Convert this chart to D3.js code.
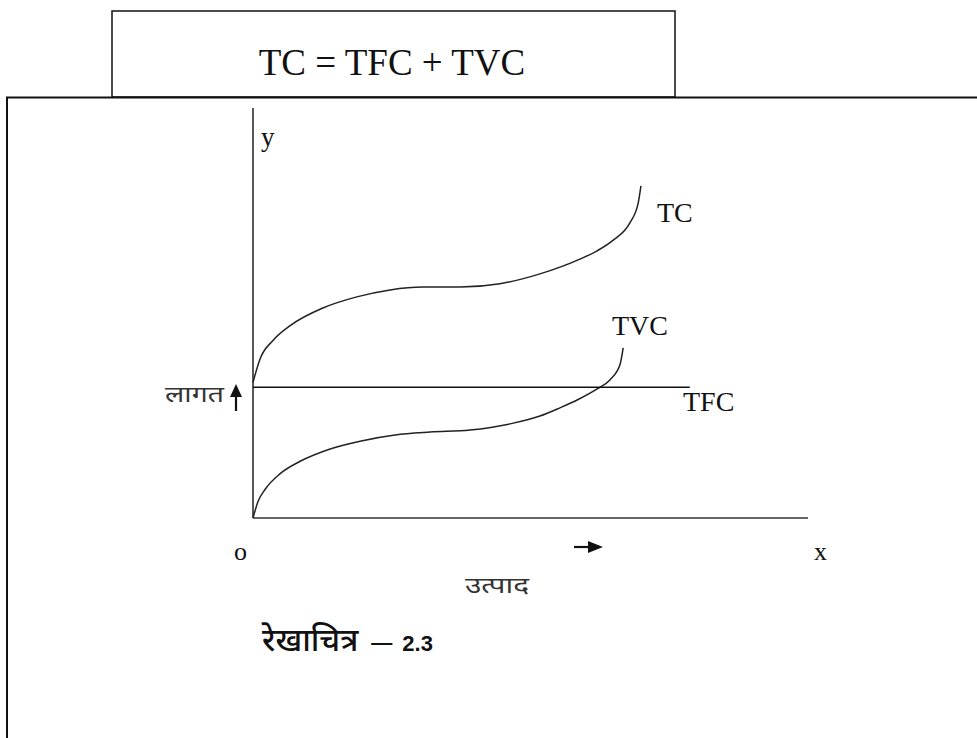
<!DOCTYPE html>
<html>
<head>
<meta charset="utf-8">
<script src="https://cdn.jsdelivr.net/npm/d3@7"></script>
<style>
  html, body { margin: 0; padding: 0; background: #fff; }
  svg { display: block; }
</style>
</head>
<body>
<svg id="chart" width="977" height="738"></svg>
<script>
// Output (x) and cost (y) points for each cost curve, in chart units
const tcOutput  = [0, 0.13, 0.36, 0.67, 1.26, 1.87, 2.47, 3.06, 3.73, 4.45, 5.17, 5.89, 6.20, 6.49, 6.79, 6.94, 6.99];
const tcCost    = [3.30, 3.88, 4.32, 4.68, 5.11, 5.38, 5.55, 5.62, 5.62, 5.70, 5.94, 6.30, 6.50, 6.76, 7.18, 7.66, 8.08];
const tvcOutput = [0, 0.09, 0.22, 0.49, 0.85, 1.39, 1.93, 2.56, 3.19, 3.91, 4.63, 5.17, 5.53, 5.84, 6.20, 6.43, 6.61, 6.67];
const tvcCost   = [0, 0.40, 0.70, 1.08, 1.38, 1.68, 1.87, 2.02, 2.09, 2.14, 2.29, 2.48, 2.68, 2.87, 3.14, 3.36, 3.72, 4.14];
const tfcOutput = [0, 7.87];
const tfcCost   = [3.18, 3.18];

const curveNames = ["TC", "TVC", "TFC"];
const formula = "TC = TFC + TVC";
const yAxisName = "लागत";
const xAxisName = "उत्पाद";
const figureTitle = "रेखाचित्र";
const figureNumber = "2.3";

const svg = d3.select("#chart");
const serif = "'Liberation Serif', 'Times New Roman', serif";
const deva = "'Noto Sans Devanagari', 'Lohit Devanagari', 'Mangal', 'Noto Sans', sans-serif";

const x = d3.scaleLinear().domain([0, 10]).range([253, 808]);
const y = d3.scaleLinear().domain([0, 10]).range([518, 107]);

// Frames
svg.append("rect").attr("x", 112).attr("y", 11).attr("width", 563).attr("height", 86)
  .attr("fill", "none").attr("stroke", "#111").attr("stroke-width", 1.5);
svg.append("path").attr("d", "M7,745 V97.5 H985")
  .attr("fill", "none").attr("stroke", "#111").attr("stroke-width", 2);

svg.append("text").attr("x", 392).attr("y", 75).attr("text-anchor", "middle")
  .attr("font-family", serif).attr("font-size", 37).attr("fill", "#111").text(formula);

// Axes
svg.append("line").attr("x1", x(0)).attr("x2", x(0)).attr("y1", 108).attr("y2", y(0))
  .attr("stroke", "#111").attr("stroke-width", 1.4);
svg.append("line").attr("x1", x(0)).attr("x2", x(10)).attr("y1", y(0)).attr("y2", y(0))
  .attr("stroke", "#666").attr("stroke-width", 2);

// Curves
const smooth = d3.line().x(d => x(d[0])).y(d => y(d[1])).curve(d3.curveMonotoneX);
const straight = d3.line().x(d => x(d[0])).y(d => y(d[1]));
const series = [
  d3.zip(tcOutput, tcCost),
  d3.zip(tvcOutput, tvcCost),
  d3.zip(tfcOutput, tfcCost)
];
svg.selectAll("path.curve").data(series).join("path")
  .attr("class", "curve")
  .attr("d", (d, i) => i === 2 ? straight(d) : smooth(d))
  .attr("fill", "none").attr("stroke", (d, i) => i === 2 ? "#111" : "#222")
  .attr("stroke-width", (d, i) => i === 2 ? 1.4 : 1.5);

// Curve labels
const labelPos = [[657, 222], [612, 335], [683, 411]];
svg.selectAll("text.curve-label").data(curveNames).join("text")
  .attr("class", "curve-label")
  .attr("x", (d, i) => labelPos[i][0]).attr("y", (d, i) => labelPos[i][1])
  .attr("font-family", serif).attr("font-size", 28).attr("fill", "#111").text(d => d);

// Axis letters
svg.append("text").attr("x", 261).attr("y", 146).attr("font-family", serif).attr("font-size", 27)
  .attr("fill", "#111").text("y");
svg.append("text").attr("x", 234).attr("y", 560).attr("font-family", serif).attr("font-size", 26)
  .attr("fill", "#111").text("o");
svg.append("text").attr("x", 814).attr("y", 560).attr("font-family", serif).attr("font-size", 26)
  .attr("fill", "#111").text("x");

// Cost label with up arrow
svg.append("text").attr("x", 165).attr("y", 402)
  .attr("font-family", deva).attr("font-size", 22).attr("fill", "#333")
  .attr("textLength", 59).attr("lengthAdjust", "spacingAndGlyphs").text(yAxisName);
svg.append("line").attr("x1", 236).attr("x2", 236).attr("y1", 411).attr("y2", 392)
  .attr("stroke", "#111").attr("stroke-width", 2.2);
svg.append("path").attr("d", "M230,397 L236,384 L242,397 Z").attr("fill", "#111");

// Output label with right arrow
svg.append("line").attr("x1", 574).attr("x2", 592).attr("y1", 547).attr("y2", 547)
  .attr("stroke", "#111").attr("stroke-width", 2.2);
svg.append("path").attr("d", "M588,541 L603,547 L588,553 Z").attr("fill", "#111");
svg.append("text").attr("x", 465).attr("y", 593)
  .attr("font-family", deva).attr("font-size", 22).attr("fill", "#333")
  .attr("textLength", 64).attr("lengthAdjust", "spacingAndGlyphs").text(xAxisName);

// Figure caption
const cap = svg.append("text").attr("x", 262).attr("y", 651)
  .attr("font-family", deva).attr("font-size", 32).attr("font-weight", 500).attr("fill", "#111");
cap.append("tspan").text(figureTitle);
cap.append("tspan").attr("dx", 12).attr("font-weight", "normal").attr("font-size", 23).text("—");
cap.append("tspan").attr("dx", 9).attr("font-family", "'Liberation Sans', Arial, sans-serif")
  .attr("font-weight", "bold").attr("font-size", 22).text(figureNumber);
</script>
</body>
</html>
